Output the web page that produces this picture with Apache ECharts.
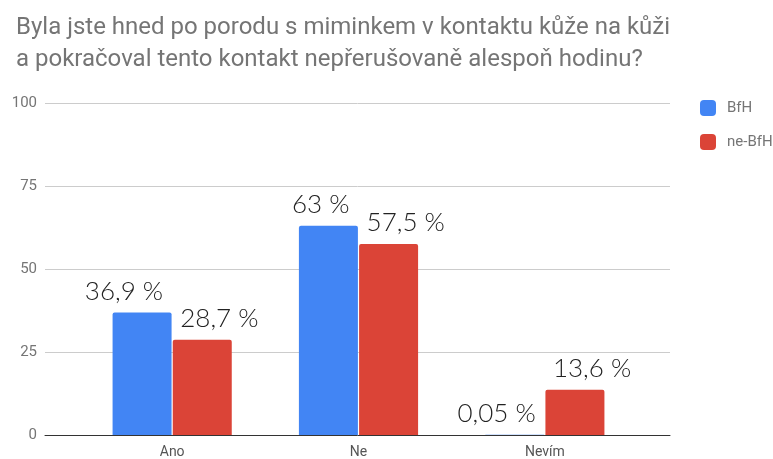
<!DOCTYPE html>
<html>
<head>
<meta charset="utf-8">
<script src="https://cdn.jsdelivr.net/npm/echarts@6/dist/echarts.min.js"></script>
<style>
  html, body { margin: 0; padding: 0; background: #fff; }
  #chart { width: 773px; height: 459px; }
</style>
</head>
<body>
<div id="chart"></div>
<script>
// data
var categories = ['Ano', 'Ne', 'Nevím'];
var seriesNames = ['BfH', 'ne-BfH'];
var bfhValues = [36.9, 63, 0.05];
var neBfhValues = [28.7, 57.5, 13.6];
var yTicks = [0, 25, 50, 75, 100];
var titleText = 'Byla jste hned po porodu s miminkem v kontaktu kůže na kůži\na pokračoval tento kontakt nepřerušovaně alespoň hodinu?';

var font = 'Roboto, "Noto Sans", sans-serif';
var labelFont = 'Lato, "Open Sans", sans-serif';

function fmt(v) {
  return String(v).replace('.', ',') + ' %';
}

var chart = echarts.init(document.getElementById('chart'));

var option = {
  animation: false,
  textStyle: { fontFamily: font },
  title: {
    text: titleText,
    left: 11,
    top: 7,
    textStyle: {
      fontFamily: font,
      fontSize: 24,
      fontWeight: 'normal',
      color: '#757575',
      lineHeight: 32
    }
  },
  legend: {
    orient: 'vertical',
    left: 695,
    top: 95,
    itemWidth: 16,
    itemHeight: 16,
    itemGap: 18,
    icon: 'roundRect',
    data: seriesNames,
    textStyle: { fontSize: 15, color: '#757575', fontFamily: font, padding: [0, 0, 0, 6] }
  },
  color: ['#4285F4', '#DB4437'],
  grid: [
    // background grid: gridlines + axis line
    { left: 45, right: 103, top: 103, bottom: 24, containLabel: false },
    // bars
    { left: 79, right: 135, top: 103, bottom: 24, containLabel: false }
  ],
  xAxis: [
    {
      gridIndex: 0, type: 'value', min: 0, max: 1,
      axisLine: { show: true, onZero: false, lineStyle: { color: '#333', width: 1 } },
      axisTick: { show: false }, axisLabel: { show: false }, splitLine: { show: false }
    },
    {
      gridIndex: 1, type: 'category', data: categories,
      axisLine: { show: false }, axisTick: { show: false },
      axisLabel: { fontSize: 14, color: '#555', margin: 10 }
    }
  ],
  yAxis: [
    {
      gridIndex: 0, type: 'value', min: yTicks[0], max: yTicks[yTicks.length - 1], interval: 25,
      axisLine: { show: false }, axisTick: { show: false },
      axisLabel: { fontSize: 15, color: '#757575', margin: 8 },
      splitLine: { lineStyle: { color: '#ccc' } }
    },
    {
      gridIndex: 1, type: 'value', min: 0, max: 100, interval: 25, show: false,
      splitLine: { show: false }
    }
  ],
  series: [
    {
      name: seriesNames[0],
      type: 'bar',
      xAxisIndex: 1, yAxisIndex: 1,
      data: bfhValues,
      barWidth: 59,
      barGap: '2%',
      itemStyle: { borderRadius: [2, 2, 0, 0] },
      label: {
        show: true, position: 'top', distance: 8,
        align: 'right', offset: [21, 0],
        fontSize: 26, fontWeight: 300, color: '#222', fontFamily: labelFont,
        formatter: function (p) { return fmt(p.value); }
      }
    },
    {
      name: seriesNames[1],
      type: 'bar',
      xAxisIndex: 1, yAxisIndex: 1,
      data: neBfhValues,
      barWidth: 59,
      barGap: '2%',
      itemStyle: { borderRadius: [2, 2, 0, 0] },
      label: {
        show: true, position: 'top', distance: 8,
        align: 'left', offset: [-22, 0],
        fontSize: 26, fontWeight: 300, color: '#222', fontFamily: labelFont,
        formatter: function (p) { return fmt(p.value); }
      }
    }
  ]
};

chart.setOption(option);
</script>
</body>
</html>
